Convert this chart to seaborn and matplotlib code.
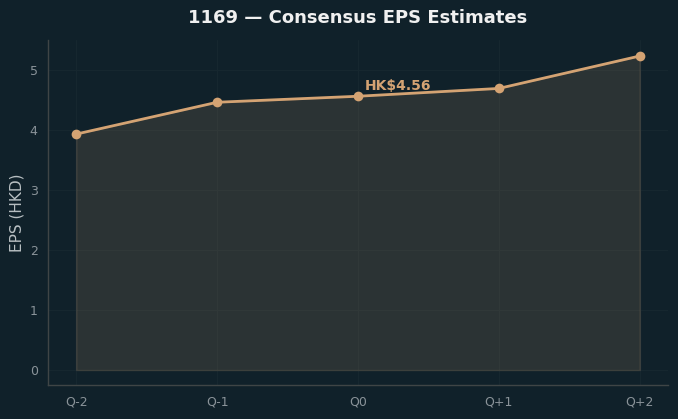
import matplotlib
matplotlib.use("Agg")
import matplotlib.pyplot as plt
import seaborn as sns
import pandas as pd

quarters = ["Q-2", "Q-1", "Q0", "Q+1", "Q+2"]
eps = [3.93, 4.46, 4.56, 4.69, 5.23]
current_label = "HK$4.56"

BG = "#10212a"
LINE = "#d4a373"
TICK = "#8a9399"

sns.set_theme(style="dark")
plt.rcParams["font.family"] = ["DejaVu Sans"]

fig, ax = plt.subplots(figsize=(6.78, 4.19), dpi=100)
fig.patch.set_facecolor(BG)
ax.set_facecolor(BG)

df = pd.DataFrame({"q": quarters, "eps": eps})
xs = list(range(len(quarters)))
ax.fill_between(xs, eps, 0, color=LINE, alpha=0.14, zorder=2)
ax.plot([0, 0], [0, eps[0]], color="#3a3f3e", lw=0.8, zorder=2)
ax.plot([xs[-1], xs[-1]], [0, eps[-1]], color="#3a3f3e", lw=0.8, zorder=2)
sns.lineplot(data=df, x="q", y="eps", ax=ax, color=LINE, lw=2, marker="o",
             markersize=7, markeredgewidth=0, sort=False, zorder=3)

ax.annotate(current_label, (2, eps[2]), xytext=(5, 2), textcoords="offset points",
            color=LINE, fontsize=10, fontweight="bold", ha="left", va="bottom")

ax.set_xlim(-0.2, 4.2)
ax.set_ylim(-0.25, 5.5)
ax.set_xlabel("")
ax.set_ylabel("EPS (HKD)", color="#b8bfc2", fontsize=11)
ax.set_title("1169 — Consensus EPS Estimates", color="#f0f0f0", fontsize=13,
             fontweight="bold", pad=12)

ax.set_axisbelow(True)
ax.grid(True, color="#16272f", lw=0.8)
ax.tick_params(colors=TICK, labelsize=9, length=4, color="#4a5255")
for s in ["top", "right"]:
    ax.spines[s].set_visible(False)
for s in ["left", "bottom"]:
    ax.spines[s].set_visible(True)
    ax.spines[s].set_color("#3f4546")
    ax.spines[s].set_linewidth(1)

fig.subplots_adjust(left=0.071, right=0.985, top=0.905, bottom=0.081)
fig.savefig("out.png", dpi=100, facecolor=BG)
